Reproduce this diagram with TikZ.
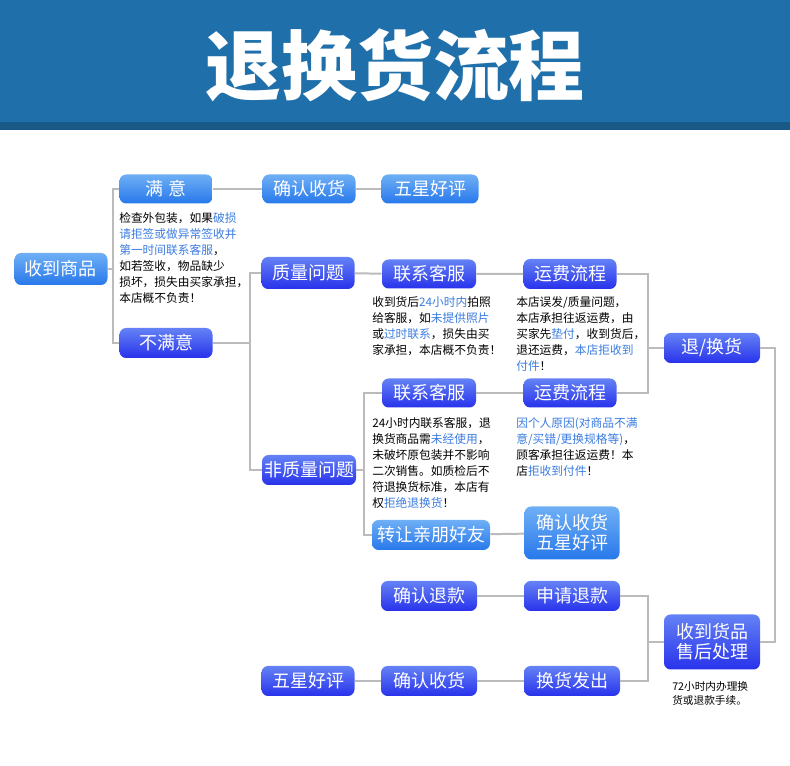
\documentclass[tikz,border=0pt]{standalone}
\usepackage{fontspec}
\setmainfont{Noto Sans CJK SC}
\definecolor{hdr}{HTML}{1F6FAA}
\definecolor{hlc}{HTML}{3A7BE0}
\definecolor{ln}{HTML}{BBBBBB}
\newcommand{\hl}[1]{\textcolor{hlc}{#1}}
\begin{document}
\begin{tikzpicture}[x=0.75pt,y=-0.75pt,
 boxL/.style={rounded corners=5pt,top color={rgb,255:red,110;green,175;blue,245},bottom color={rgb,255:red,40;green,120;blue,235},text=white,font=\fontsize{13.5pt}{15pt}\selectfont,inner sep=0,align=center},
 boxD/.style={rounded corners=5pt,top color={rgb,255:red,100;green,130;blue,245},bottom color={rgb,255:red,40;green,50;blue,235},text=white,font=\fontsize{13.5pt}{15pt}\selectfont,inner sep=0,align=center},
 txt/.style={anchor=north west,align=left,inner sep=0,font=\fontsize{8.8pt}{12pt}\selectfont},
 con/.style={draw=ln,line width=1.5pt}]
\useasboundingbox (0,0) rectangle (790,766);
\fill[hdr] (0,0) rectangle (790,130);
\fill[hdr!80!black] (0,122) rectangle (790,130);
\node[text=white,font=\fontsize{57pt}{60pt}\selectfont\bfseries] (title) at (395,65) {退换货流程};
% nodes
\node[boxL,minimum width=93*0.75pt,minimum height=32*0.75pt] (recv) at (61,269) {收到商品};
\node[boxL,minimum width=93*0.75pt,minimum height=29*0.75pt] (sat) at (166,189) {满 意};
\node[boxD,minimum width=93*0.75pt,minimum height=30*0.75pt] (unsat) at (166,343) {不满意};
\node[boxL,minimum width=93*0.75pt,minimum height=29*0.75pt] (conf1) at (309,189) {确认收货};
\node[boxL,minimum width=97*0.75pt,minimum height=29*0.75pt] (five1) at (430,189) {五星好评};
\node[boxD,minimum width=93*0.75pt,minimum height=32*0.75pt] (qual) at (308,273) {质量问题};
\node[boxD,minimum width=94*0.75pt,minimum height=30*0.75pt] (nonq) at (309,470) {非质量问题};
\node[boxD,minimum width=94*0.75pt,minimum height=29*0.75pt] (cs1) at (429,274) {联系客服};
\node[boxD,minimum width=93*0.75pt,minimum height=30*0.75pt] (fee1) at (570,274) {运费流程};
\node[boxD,minimum width=94*0.75pt,minimum height=29*0.75pt] (cs2) at (429,393) {联系客服};
\node[boxD,minimum width=93*0.75pt,minimum height=29*0.75pt] (fee2) at (570,393) {运费流程};
\node[boxD,minimum width=96*0.75pt,minimum height=30*0.75pt] (ret) at (712,348) {退/换货};
\node[boxL,minimum width=118*0.75pt,minimum height=30*0.75pt] (give) at (431,535) {转让亲朋好友};
\node[boxL,minimum width=95*0.75pt,minimum height=53*0.75pt] (cf5) at (572,533) {确认收货\\五星好评};
\node[boxD,minimum width=96*0.75pt,minimum height=30*0.75pt] (cref) at (429,596) {确认退款};
\node[boxD,minimum width=96*0.75pt,minimum height=30*0.75pt] (aref) at (572,596) {申请退款};
\node[boxD,minimum width=96*0.75pt,minimum height=55*0.75pt] (after) at (712,642) {收到货品\\售后处理};
\node[boxD,minimum width=96*0.75pt,minimum height=30*0.75pt] (ship) at (572,681) {换货发出};
\node[boxD,minimum width=96*0.75pt,minimum height=30*0.75pt] (conf2) at (429,681) {确认收货};
\node[boxD,minimum width=93*0.75pt,minimum height=30*0.75pt] (five2) at (308,681) {五星好评};
% texts
\node[txt] (t1) at (119,212) {检查外包装，如果\hl{破损}\\\hl{请拒签或做异常签收并}\\\hl{第一时间联系客服}，\\如若签收，物品缺少\\损坏，损失由买家承担，\\本店概不负责！};
\node[txt] (t2) at (372,296) {收到货后\hl{24小时内}拍照\\给客服，如\hl{未提供照片}\\或\hl{过时联系}，损失由买\\家承担，本店概不负责！};
\node[txt] (t3) at (516,296) {本店误发/质量问题，\\本店承担往返运费，由\\买家先\hl{垫付}，收到货后，\\退还运费，\hl{本店拒收到}\\\hl{付件}！};
\node[txt] (t4) at (372,417) {24小时内联系客服，退\\换货商品需\hl{未经使用}，\\未破坏原包装并不影响\\二次销售。如质检后不\\符退换货标准，本店有\\权\hl{拒绝退换货}！};
\node[txt] (t5) at (516,417) {\hl{因个人原因(对商品不满}\\\hl{意/买错/更换规格等)}，\\顾客承担往返运费！本\\店\hl{拒收到付件}！};
\node[txt,font=\fontsize{8pt}{11pt}\selectfont] (t6) at (672,681) {72小时内办理换\\货或退款手续。};
% connectors
\coordinate (j1) at (113,269);
\draw[con] (recv.east) -- (j1);
\draw[con] (sat.west) -| (j1) |- (unsat.west);
\draw[con] (sat) -- (conf1) -- (five1);
\coordinate (j2) at (250,343);
\draw[con] (unsat.east) -- (j2);
\draw[con] (qual.west) -| (j2) |- (nonq.west);
\draw[con] (qual) -- (cs1) -- (fee1);
\coordinate (j3) at (648,348);
\draw[con] (fee1.east) -| (j3) |- (fee2.east);
\draw[con] (j3) -- (ret.west);
\draw[con] (cs2) -- (fee2);
\coordinate (j4) at (364,470);
\draw[con] (nonq.east) -- (j4);
\draw[con] (cs2.west) -| (j4) |- (give.west);
\draw[con] (give) -- (cf5);
\coordinate (j5) at (775,348);
\draw[con] (ret.east) -- (j5) |- (after.east);
\coordinate (j6) at (648,642);
\draw[con] (after.west) -- (j6);
\draw[con] (aref.east) -| (j6) |- (ship.east);
\draw[con] (aref) -- (cref);
\draw[con] (ship) -- (conf2) -- (five2);
\end{tikzpicture}
\end{document}
